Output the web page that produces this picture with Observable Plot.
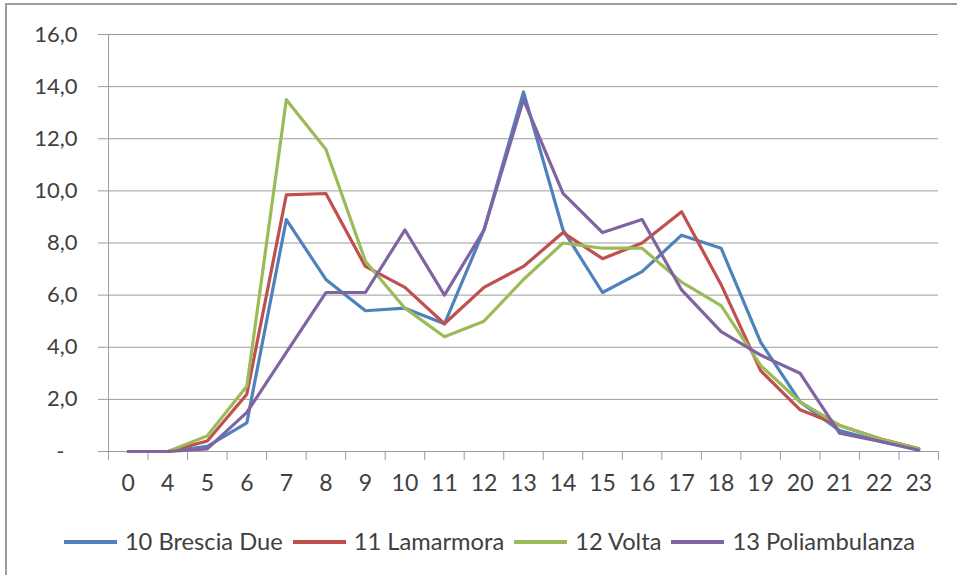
<!DOCTYPE html>
<html>
<head>
<meta charset="utf-8">
<script src="https://cdn.jsdelivr.net/npm/d3@7"></script>
<script src="https://cdn.jsdelivr.net/npm/@observablehq/plot@0.6"></script>
<style>
  html, body { margin: 0; padding: 0; background: #fff; width: 957px; height: 575px; overflow: hidden; }
  #frame { position: absolute; left: 5px; top: 3px; width: 1000px; height: 700px;
           border-left: 2px solid #9c9c9c; border-top: 2px solid #9c9c9c; pointer-events: none; }
  #chart { position: absolute; left: 0; top: 0; }
  #legend { position: absolute; left: 0; top: 527px; width: 979px; display: flex; justify-content: center;
            font-family: Lato, "Open Sans", sans-serif; font-size: 23.7px; color: #404040; line-height: 28px; }
  .item { display: flex; align-items: center; margin-right: 10px; }
  .item:last-child { margin-right: 0; }
  .sw { width: 53px; height: 4px; margin-right: 8px; margin-top: 1px; }
</style>
</head>
<body>
<div id="chart"></div>
<div id="legend"></div>
<div id="frame"></div>
<script>
const hours = ["0","4","5","6","7","8","9","10","11","12","13","14","15","16","17","18","19","20","21","22","23"];
const seriesNames = ["10 Brescia Due","11 Lamarmora","12 Volta","13 Poliambulanza"];
const seriesColors = ["#4F81BD","#C0504D","#9BBB59","#8064A2"];
const bresciaDue    = [0, 0, 0.2, 1.1, 8.9, 6.6, 5.4, 5.5, 4.9, 8.5, 13.8, 8.5, 6.1, 6.9, 8.3, 7.8, 4.2, 1.9, 0.8, 0.4, 0.1];
const lamarmora     = [0, 0, 0.4, 2.2, 9.85, 9.9, 7.1, 6.3, 4.9, 6.3, 7.1, 8.4, 7.4, 8.0, 9.2, 6.4, 3.1, 1.6, 1.0, 0.5, 0.1];
const volta         = [0, 0, 0.6, 2.5, 13.5, 11.6, 7.3, 5.5, 4.4, 5.0, 6.6, 8.0, 7.8, 7.8, 6.5, 5.6, 3.3, 1.9, 1.0, 0.5, 0.1];
const poliambulanza = [0, 0, 0.1, 1.5, 3.8, 6.1, 6.1, 8.5, 6.0, 8.5, 13.5, 9.9, 8.4, 8.9, 6.2, 4.6, 3.7, 3.0, 0.7, 0.4, 0.05];
const yTicks = [0, 2, 4, 6, 8, 10, 12, 14, 16];

const seriesValues = [bresciaDue, lamarmora, volta, poliambulanza];
const data = seriesNames.flatMap((s, k) => seriesValues[k].map((v, i) => ({series: s, i, hour: hours[i], v})));

const grid = "#9c9c9c";
const chart = Plot.plot({
  width: 957, height: 500,
  marginLeft: 108, marginRight: 19, marginTop: 34, marginBottom: 49,
  x: {type: "linear", domain: [0, hours.length]},
  y: {domain: [0, 16]},
  color: {domain: seriesNames, range: seriesColors},
  style: {fontFamily: "Lato, 'Open Sans', sans-serif", fontSize: "22px", color: "#404040", background: "transparent", overflow: "visible"},
  marks: [
    Plot.gridY(yTicks.slice(1), {stroke: grid, strokeOpacity: 1}),
    Plot.axisY(yTicks, {tickSize: 10, tickPadding: 21, stroke: grid, strokeOpacity: 1, fill: "#404040", fontSize: 22,
      tickFormat: d => d === 0 ? "" : d.toFixed(1).replace(".", ","), label: null}),
    Plot.axisY([0], {tickSize: 0, tickPadding: 44, fill: "#404040", fontSize: 22, tickFormat: () => "-", label: null}),
    Plot.ruleX([0], {stroke: grid}),
    Plot.axisX(d3.range(hours.length + 1), {tickSize: 9, stroke: grid, strokeOpacity: 1, tickFormat: () => "", label: null}),
    Plot.axisX(hours.map((h, i) => i + 0.5), {tickSize: 0, tickPadding: 23, fill: "#404040", fontSize: 23,
      tickFormat: d => hours[Math.round(d - 0.5)], label: null}),
    Plot.ruleY([0], {stroke: grid}),
    Plot.line(data, {x: d => d.i + 0.5, y: "v", z: "series", stroke: "series", strokeWidth: 3.2, strokeLinejoin: "round", strokeLinecap: "round"})
  ]
});
document.getElementById("chart").append(chart);

const legend = document.getElementById("legend");
seriesNames.forEach((s, k) => {
  const item = document.createElement("div");
  item.className = "item";
  const sw = document.createElement("div");
  sw.className = "sw";
  sw.style.background = seriesColors[k];
  const t = document.createElement("span");
  t.textContent = s;
  item.append(sw, t);
  legend.append(item);
});
</script>
</body>
</html>
